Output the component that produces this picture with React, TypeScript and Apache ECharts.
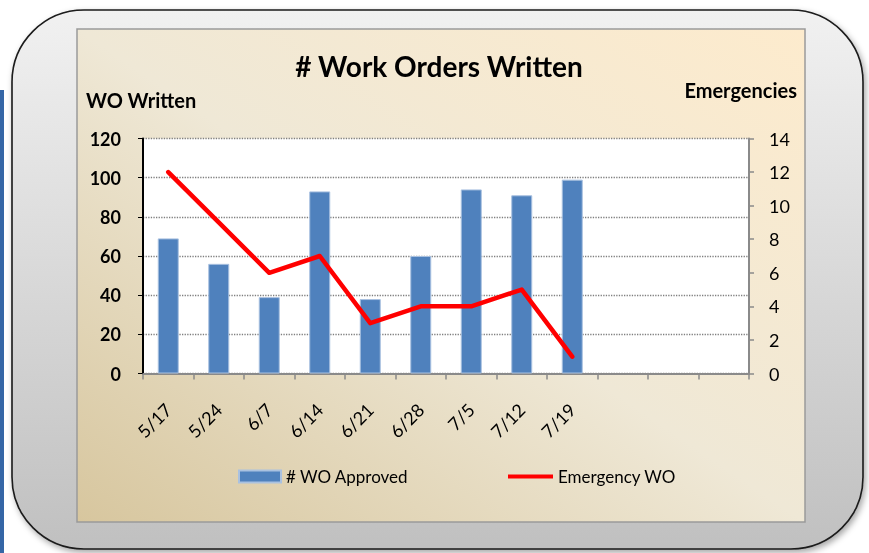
import React, { useEffect, useRef } from "react";
import * as echarts from "echarts";

const categories = ["5/17", "5/24", "6/7", "6/14", "6/21", "6/28", "7/5", "7/12", "7/19", "", "", ""];
const woApproved = [69, 56, 39, 93, 38, 60, 94, 91, 99];
const emergencyWO = [12, 9, 6, 7, 3, 4, 4, 5, 1];
const leftTicks = { min: 0, max: 120, interval: 20 };
const rightTicks = { min: 0, max: 14, interval: 2 };

const FONT = "Lato, 'Noto Sans', sans-serif";

export default function App() {
  const ref = useRef<HTMLDivElement>(null);
  useEffect(() => {
    if (!ref.current) return;
    const chart = echarts.init(ref.current, null, { renderer: "svg" });
    chart.setOption({
      animation: false,
      textStyle: { fontFamily: FONT },
      graphic: [
        {
          type: "rect",
          z: -30,
          shape: { x: 0, y: 90, width: 4, height: 463 },
          style: { fill: "#3566a6" },
        },
        {
          type: "rect",
          z: -20,
          shape: { x: 12, y: 10, width: 851, height: 539, r: 72 },
          style: {
            fill: new echarts.graphic.LinearGradient(0, 0, 0, 1, [
              { offset: 0, color: "#f1f1f1" },
              { offset: 1, color: "#c0c0c0" },
            ]),
            stroke: "#1a1a1a",
            lineWidth: 1.6,
            shadowBlur: 6,
            shadowOffsetX: 2,
            shadowOffsetY: 3,
            shadowColor: "rgba(0,0,0,0.35)",
          },
        },
        {
          type: "rect",
          z: -10,
          shape: { x: 77, y: 29, width: 728, height: 493 },
          style: {
            fill: new echarts.graphic.LinearGradient(0, 1, 1, 0, [
              { offset: 0, color: "#d7c69e" },
              { offset: 0.5, color: "#efe8d6" },
              { offset: 1, color: "#fdebcd" },
            ]),
            stroke: "#9a9a9a",
            lineWidth: 1.5,
          },
        },
        {
          type: "text",
          z: 10,
          x: 439,
          y: 66,
          style: {
            text: "# Work Orders Written",
            font: `bold 28px ${FONT}`,
            fill: "#000",
            align: "center",
            verticalAlign: "middle",
          },
        },
        {
          type: "text",
          z: 10,
          x: 86,
          y: 100,
          style: {
            text: "WO Written",
            font: `bold 20px ${FONT}`,
            fill: "#000",
            align: "left",
            verticalAlign: "middle",
          },
        },
        {
          type: "text",
          z: 10,
          x: 797,
          y: 90,
          style: {
            text: "Emergencies",
            font: `bold 20px ${FONT}`,
            fill: "#000",
            align: "right",
            verticalAlign: "middle",
          },
        },
      ],
      grid: {
        left: 143,
        right: 120,
        top: 138.5,
        bottom: 179.5,
        show: true,
        backgroundColor: "#ffffff",
        borderWidth: 0,
      },
      legend: [
        {
          left: 233,
          top: 463,
          itemWidth: 42,
          itemHeight: 12,
          textStyle: { fontFamily: FONT, fontSize: 17, color: "#000" },
          data: [{ name: "# WO Approved", icon: "rect" }],
        },
        {
          left: 503,
          top: 463,
          itemWidth: 45,
          itemHeight: 4,
          textStyle: { fontFamily: FONT, fontSize: 17, color: "#000" },
          itemStyle: { color: "#ff0000", borderWidth: 0 },
          lineStyle: { width: 0 },
          data: [{ name: "Emergency WO", icon: "rect" }],
        },
      ],
      xAxis: {
        type: "category",
        data: categories,
        boundaryGap: true,
        axisLine: { lineStyle: { color: "#8a8a8a", width: 2 } },
        axisTick: { show: true, length: 6, lineStyle: { color: "#8a8a8a", width: 1.5 } },
        axisLabel: {
          rotate: 45,
          margin: 33,
          fontSize: 18,
          color: "#000",
          fontFamily: FONT,
          interval: 0,
        },
        splitLine: { show: false },
      },
      yAxis: [
        {
          type: "value",
          ...leftTicks,
          position: "left",
          axisLine: { show: true, lineStyle: { color: "#000", width: 2 } },
          axisTick: { show: true, length: 5, lineStyle: { color: "#000" } },
          axisLabel: {
            fontSize: 18,
            fontWeight: "bold",
            color: "#000",
            margin: 22,
            fontFamily: FONT,
          },
          splitLine: {
            show: true,
            lineStyle: { color: "#7f7f7f", type: "dotted", width: 1.3 },
          },
        },
        {
          type: "value",
          ...rightTicks,
          position: "right",
          axisLine: { show: true, lineStyle: { color: "#8a8a8a", width: 2 } },
          axisTick: { show: true, length: 5, lineStyle: { color: "#8a8a8a", width: 1.5 } },
          axisLabel: {
            fontSize: 18,
            color: "#000",
            margin: 20,
            fontFamily: FONT,
          },
          splitLine: { show: false },
        },
      ],
      series: [
        {
          name: "# WO Approved",
          type: "bar",
          yAxisIndex: 0,
          data: woApproved,
          barWidth: 21,
          itemStyle: { color: "#4f81bd", borderColor: "#a9c1e0", borderWidth: 1 },
        },
        {
          name: "Emergency WO",
          type: "line",
          yAxisIndex: 1,
          data: emergencyWO,
          symbol: "none",
          lineStyle: { color: "#ff0000", width: 4.5, cap: "round", join: "round" },
          itemStyle: { color: "#ff0000" },
        },
      ],
    });
    return () => chart.dispose();
  }, []);
  return (
    <div
      ref={ref}
      style={{ position: "fixed", left: 0, top: 0, width: 869, height: 553 }}
    />
  );
}
